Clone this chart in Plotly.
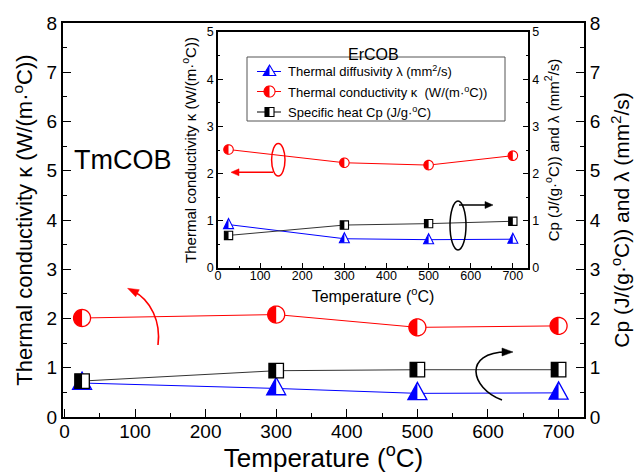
import numpy as np
import plotly.graph_objects as go

# ---------------- data ----------------
temps = [25, 300, 500, 700]
# TmCOB (main plot)
tm_kappa = [2.01, 2.08, 1.82, 1.85]
tm_cp = [0.73, 0.94, 0.96, 0.96]
tm_lambda = [0.69, 0.58, 0.48, 0.49]
# ErCOB (inset)
er_kappa = [2.51, 2.23, 2.18, 2.38]
er_cp = [0.69, 0.91, 0.94, 0.99]
er_lambda = [0.92, 0.62, 0.60, 0.61]

legend_labels = [
    "Thermal diffusivity λ (mm<sup>2</sup>/s)",
    "Thermal conductivity κ  (W/(m·<sup>o</sup>C))",
    "Specific heat Cp (J/g·<sup>o</sup>C)",
]

RED, BLUE, BLACK = "#ff0000", "#0000ff", "#000000"
FONT = "Liberation Sans, Arial, sans-serif"

W, H = 636, 473
ML, MR, MT, MB = 63, 52, 23, 56


def px(x):
    return (x - ML) / (W - ML - MR)


def py(y):
    return (H - MB - y) / (H - MT - MB)


# ------------- marker geometry (pixel paths, y up) -------------
def poly(pts):
    return "M" + " L".join(f"{a:.2f},{b:.2f}" for a, b in pts) + " Z"


def circle_paths(d):
    r = d / 2
    a = np.linspace(0, 2 * np.pi, 41)[:-1]
    full = poly(list(zip(r * np.cos(a), r * np.sin(a))))
    h = np.linspace(np.pi / 2, 3 * np.pi / 2, 21)
    left = poly(list(zip(r * np.cos(h), r * np.sin(h))))
    return full, left


def square_paths(s):
    a = s / 2
    full = poly([(-a, -a), (a, -a), (a, a), (-a, a)])
    left = poly([(-a, -a), (0, -a), (0, a), (-a, a)])
    return full, left


def tri_paths(w, top, bot):
    full = poly([(-w / 2, -bot), (w / 2, -bot), (0, top)])
    left = poly([(-w / 2, -bot), (0, -bot), (0, top)])
    return full, left


shapes = []


def add_marker(xref, yref, x, y, paths, color, lw):
    full, left = paths
    common = dict(type="path", xref=xref, yref=yref, xsizemode="pixel",
                  ysizemode="pixel", xanchor=x, yanchor=y, layer="above")
    shapes.append(dict(common, path=full, fillcolor="white",
                       line=dict(color=color, width=lw)))
    shapes.append(dict(common, path=left, fillcolor=color,
                       line=dict(color=color, width=0)))


fig = go.Figure()

# main lines
fig.add_trace(go.Scatter(x=temps, y=tm_lambda, mode="lines", yaxis="y3",
                         line=dict(color=BLUE, width=1), showlegend=False))
fig.add_trace(go.Scatter(x=temps, y=tm_cp, mode="lines", yaxis="y3",
                         line=dict(color="#333333", width=1), showlegend=False))
fig.add_trace(go.Scatter(x=temps, y=tm_kappa, mode="lines", yaxis="y",
                         line=dict(color=RED, width=1), showlegend=False))
# inset lines
fig.add_trace(go.Scatter(x=temps, y=er_lambda, mode="lines", xaxis="x2", yaxis="y4",
                         line=dict(color=BLUE, width=1), showlegend=False))
fig.add_trace(go.Scatter(x=temps, y=er_cp, mode="lines", xaxis="x2", yaxis="y4",
                         line=dict(color="#333333", width=1), showlegend=False))
fig.add_trace(go.Scatter(x=temps, y=er_kappa, mode="lines", xaxis="x2", yaxis="y2",
                         line=dict(color=RED, width=1), showlegend=False))

# main markers
for x, y in zip(temps, tm_lambda):
    add_marker("x", "y3", x, y, tri_paths(19, 11, 6.3), BLUE, 1.3)
for x, y in zip(temps, tm_cp):
    add_marker("x", "y3", x, y, square_paths(14.5), BLACK, 1.3)
for x, y in zip(temps, tm_kappa):
    add_marker("x", "y", x, y, circle_paths(17), RED, 1.3)
# inset markers
for x, y in zip(temps, er_lambda):
    add_marker("x2", "y4", x, y, tri_paths(10, 6, 4), BLUE, 1.1)
for x, y in zip(temps, er_cp):
    add_marker("x2", "y4", x, y, square_paths(8.3), BLACK, 1.1)
for x, y in zip(temps, er_kappa):
    add_marker("x2", "y2", x, y, circle_paths(9.5), RED, 1.1)

# ------------- inset legend (drawn manually) -------------
shapes.append(dict(type="rect", xref="paper", yref="paper", x0=px(247), x1=px(505),
                   y0=py(121), y1=py(57), line=dict(color="#555555", width=1),
                   fillcolor="white", layer="above"))
rows = [71.5, 91.5, 112]
leg_styles = [(BLUE, tri_paths(12.5, 6.5, 4)), (RED, circle_paths(11)), (BLACK, square_paths(9))]
annotations = []
for yy, (col, paths), lab in zip(rows, leg_styles, legend_labels):
    shapes.append(dict(type="line", xref="paper", yref="paper", x0=px(257), x1=px(281),
                       y0=py(yy), y1=py(yy), line=dict(color=col, width=1), layer="above"))
    add_marker("paper", "paper", px(269.5), py(yy), paths, col, 1.1)
    annotations.append(dict(xref="paper", yref="paper", x=px(286), y=py(yy), xanchor="left",
                            yanchor="middle", text=lab, showarrow=False,
                            font=dict(family=FONT, size=13, color="black")))


# ------------- decorative ellipses and arrows -------------
def ellipse(cx, cy, rx, ry, col):
    shapes.append(dict(type="circle", xref="paper", yref="paper", x0=px(cx - rx), x1=px(cx + rx),
                       y0=py(cy + ry), y1=py(cy - ry), line=dict(color=col, width=1.5), layer="above"))


def head(tip, d, col, length=10, half=3.8):
    d = np.asarray(d, float)
    d /= np.linalg.norm(d)
    n = np.array([-d[1], d[0]])
    tip = np.asarray(tip, float)
    base = tip - d * length
    pts = [tip, base + n * half, base - n * half]
    hp = "M" + " L".join(f"{px(a)},{py(b)}" for a, b in pts) + " Z"
    shapes.append(dict(type="path", xref="paper", yref="paper", path=hp, fillcolor=col,
                       line=dict(color=col, width=0.5), layer="above"))


def curve(p, col):
    (x0, y0), (x1, y1), (x2, y2), (x3, y3) = p
    path = (f"M{px(x0)},{py(y0)} C{px(x1)},{py(y1)} {px(x2)},{py(y2)} {px(x3)},{py(y3)}")
    shapes.append(dict(type="path", xref="paper", yref="paper", path=path,
                       line=dict(color=col, width=1.6), layer="above"))
    d = np.array([x3 - x2, y3 - y2], float)
    d /= np.linalg.norm(d)
    head(np.array([x3, y3]) + d * 6, d, col, 11, 4)


def straight(x0, y0, x1, y1, col):
    d = np.array([x1 - x0, y1 - y0], float)
    d /= np.linalg.norm(d)
    end = np.array([x1, y1]) - d * 6
    shapes.append(dict(type="line", xref="paper", yref="paper", x0=px(x0), y0=py(y0),
                       x1=px(end[0]), y1=py(end[1]), line=dict(color=col, width=1.5),
                       layer="above"))
    head((x1, y1), d, col, 8, 3.5)


ellipse(278.3, 159.7, 6.7, 16.3, RED)
ellipse(458, 225.5, 8, 24.5, BLACK)
curve([(158, 345), (161, 322), (151, 300), (133, 291)], RED)
curve([(502, 400), (470, 388), (463, 352), (507, 352)], BLACK)
straight(273, 172.3, 231, 172.3, RED)
straight(459, 205, 493, 205, BLACK)

annotations.append(dict(xref="paper", yref="paper", x=px(373), y=py(44), text="ErCOB",
                        showarrow=False, font=dict(family=FONT, size=16, color="black")))
annotations.append(dict(xref="paper", yref="paper", x=px(72), y=py(143), xanchor="left",
                        text="TmCOB", showarrow=False,
                        font=dict(family=FONT, size=27, color="black")))

# ------------- axes -------------
tickf = dict(family=FONT, size=19, color="black")
tickf_in = dict(family=FONT, size=12.5, color="black")


def ax_common(lw, tl, tf):
    return dict(showgrid=False, zeroline=False, showline=True, linecolor="black",
                linewidth=lw, ticks="inside", ticklen=tl, tickwidth=1.3, tickcolor="black",
                tickfont=tf, automargin=False)


fig.update_layout(
    width=W, height=H,
    margin=dict(l=ML, r=MR, t=MT, b=MB, pad=0, autoexpand=False),
    paper_bgcolor="white", plot_bgcolor="white",
    font=dict(family=FONT, color="black"),
    showlegend=False,
    xaxis=dict(ax_common(2, 8, tickf), domain=[0, 1], anchor="y", range=[-2, 736],
               tick0=0, dtick=100, mirror=True, ticklabelstandoff=-4,
               minor=dict(dtick=50, ticks="inside", ticklen=4, tickwidth=1.3, tickcolor="black"),
               title=dict(text="Temperature (<sup>o</sup>C)",
                          font=dict(family=FONT, size=26), standoff=2)),
    yaxis=dict(ax_common(2, 8, tickf), domain=[0, 1], anchor="x", range=[0, 8], dtick=1,
               minor=dict(dtick=0.5, ticks="inside", ticklen=4, tickwidth=1.3, tickcolor="black"),
               title=dict(text="Thermal conductivity κ (W/(m·<sup>o</sup>C))",
                          font=dict(family=FONT, size=22), standoff=8)),
    yaxis3=dict(ax_common(2, 8, tickf), overlaying="y", side="right", anchor="x",
                range=[0, 8], dtick=1,
                minor=dict(dtick=0.5, ticks="inside", ticklen=4, tickwidth=1.3, tickcolor="black"),
                title=dict(text="Cp (J/(g·<sup>o</sup>C)) and λ (mm<sup>2</sup>/s)",
                           font=dict(family=FONT, size=21), standoff=15)),
    xaxis2=dict(ax_common(1.5, 5, tickf_in), domain=[px(218), px(528)], anchor="y2",
                range=[0, 736], tick0=0, dtick=100, mirror=True, ticklabelstandoff=-5,
                minor=dict(dtick=50, ticks="inside", ticklen=2.5, tickwidth=1, tickcolor="black"),
                title=dict(text="Temperature (<sup>o</sup>C)",
                           font=dict(family=FONT, size=16), standoff=9)),
    yaxis2=dict(ax_common(1.5, 5, tickf_in), domain=[py(268), py(32)], anchor="x2",
                range=[0, 5], dtick=1,
                minor=dict(dtick=0.5, ticks="inside", ticklen=2.5, tickwidth=1, tickcolor="black"),
                title=dict(text="Thermal conductivity κ (W/(m·<sup>o</sup>C))",
                           font=dict(family=FONT, size=15), standoff=7)),
    yaxis4=dict(ax_common(1.5, 5, tickf_in), overlaying="y2", side="right", anchor="x2",
                range=[0, 5], dtick=1,
                minor=dict(dtick=0.5, ticks="inside", ticklen=2.5, tickwidth=1, tickcolor="black"),
                title=dict(text="Cp (J/(g·<sup>o</sup>C)) and λ (mm<sup>2</sup>/s)",
                           font=dict(family=FONT, size=15), standoff=10)),
    shapes=shapes,
    annotations=annotations,
)

fig.write_html("out.html")
